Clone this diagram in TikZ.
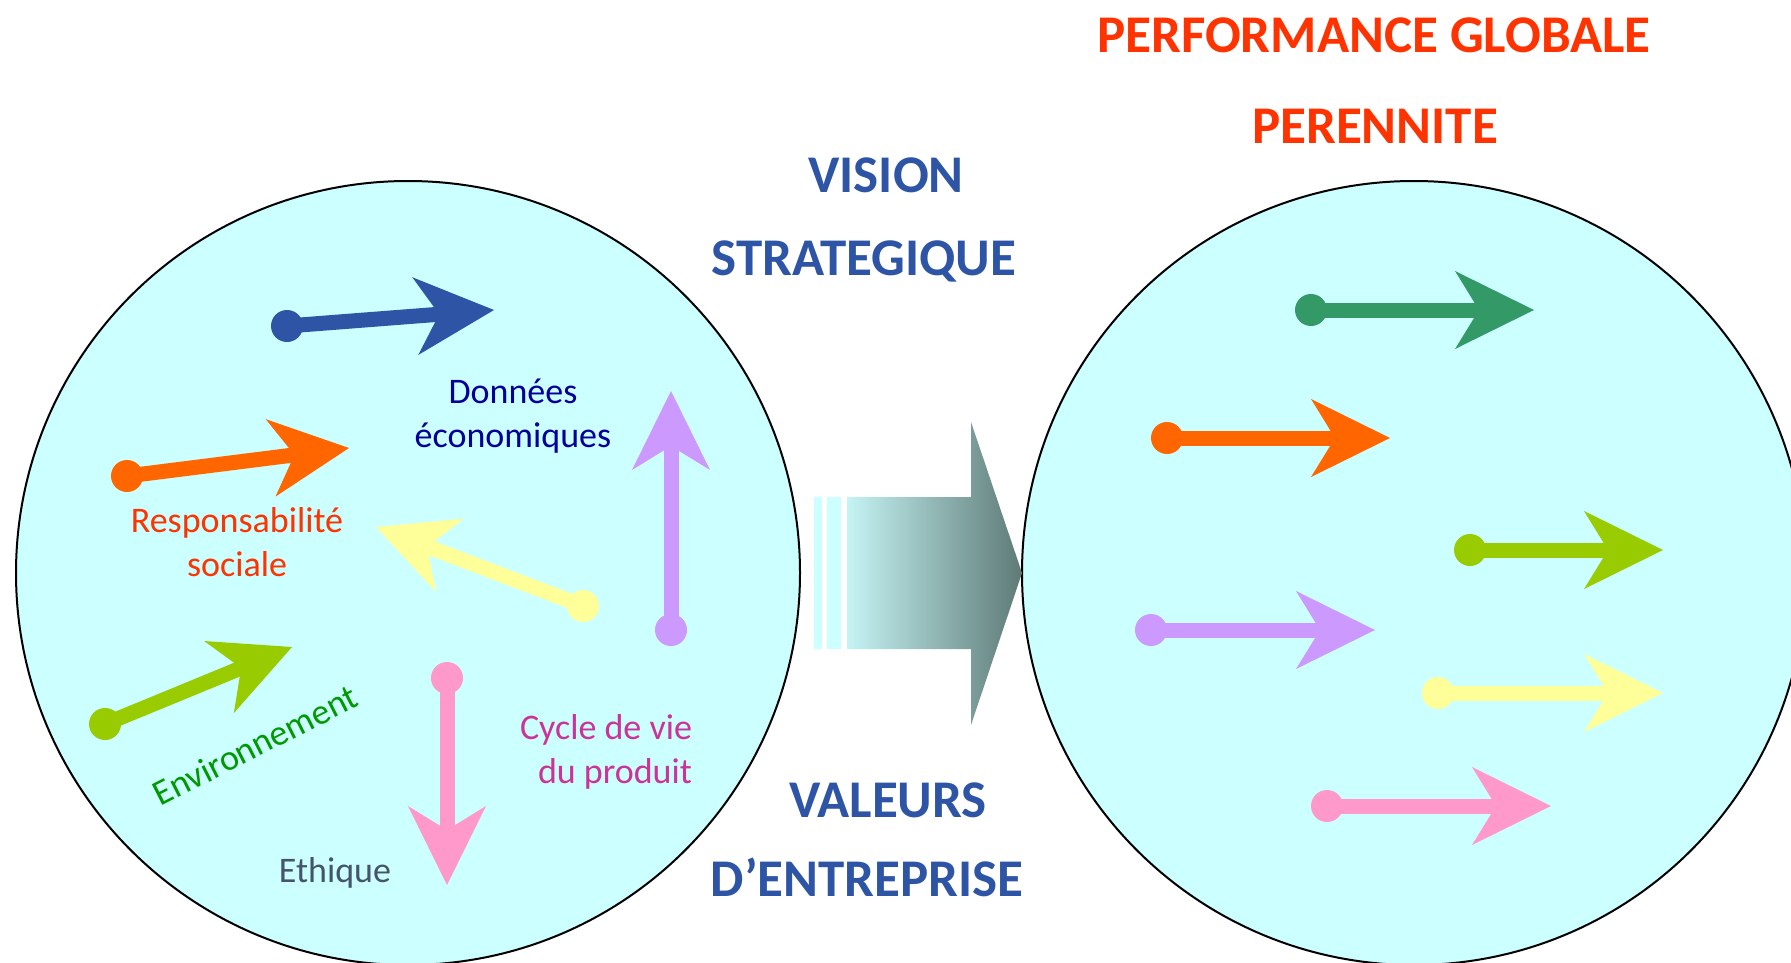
\documentclass[tikz,border=0pt]{standalone}
\usepackage{fontspec}
\setmainfont{Carlito}
\definecolor{bubblecyan}{RGB}{204, 255, 255}
\definecolor{headblue}{RGB}{46, 85, 165}
\definecolor{headred}{RGB}{255, 51, 0}
\definecolor{navytext}{RGB}{0, 0, 153}
\definecolor{envgreen}{RGB}{0, 153, 0}
\definecolor{slatetext}{RGB}{68, 84, 106}
\definecolor{cyclepink}{RGB}{204, 51, 153}
\definecolor{arrorange}{RGB}{255, 102, 0}
\definecolor{arryellow}{RGB}{255, 255, 153}
\definecolor{arrlilac}{RGB}{204, 153, 255}
\definecolor{arrlime}{RGB}{153, 204, 0}
\definecolor{arrpink}{RGB}{255, 153, 204}
\definecolor{arrteal}{RGB}{51, 153, 102}
\definecolor{gradlight}{RGB}{197, 244, 244}
\definecolor{graddark}{RGB}{94, 122, 118}
\usetikzlibrary{arrows.meta, shapes, positioning}

\begin{document}
\begin{tikzpicture}[x=1pt, y=-1pt,
    bubble/.style={draw=black, line width=2pt, fill=bubblecyan},
    dotend/.style={circle, fill=#1, minimum size=32pt, inner sep=0pt},
    shaft/.style={draw=#1, line width=15pt,
      -{Stealth[length=79pt, width=78pt, inset=24pt, line width=0pt]}},
    heading/.style={font=\bfseries\fontsize{53}{63}\selectfont, headblue, anchor=base},
    topline/.style={font=\bfseries\fontsize{53}{63}\selectfont, headred, anchor=base},
    label/.style={font=\fontsize{36}{44}\selectfont, align=center}]
  \useasboundingbox (0,0) rectangle (1791,963);

  % Circles
  \draw[bubble] (408,573) circle (392);
  \draw[bubble] (1414,573) circle (392);

  % Big arrow
  \fill[bubblecyan] (814,497) rectangle (822,649);
  \fill[bubblecyan] (827,497) rectangle (841,649);
  \shade[left color=gradlight, right color=graddark]
    (847,497) -- (971,497) -- (971,422) -- (1022,573) -- (971,725)
    -- (971,649) -- (847,649) -- cycle;

  % Left circle arrows
  \foreach \nm/\col/\xa/\ya/\xb/\yb in {eco/headblue/287/326/494/310,
      soc/arrorange/127/476/349/448, yel/arryellow/583/606/376/527,
      lil/arrlilac/671/630/671/391, env/arrlime/105/724/292/647,
      eth/arrpink/447/678/447/885} {
    \node[dotend=\col] (\nm Dot) at (\xa,\ya) {};
    \coordinate (\nm Tip) at (\xb,\yb);
    \draw[shaft=\col] (\nm Dot.center) -- (\nm Tip);
  }

  % Right circle arrows
  \foreach \nm/\col/\xa/\xb/\yy in {rTeal/arrteal/1311/1534/310,
      rOrange/arrorange/1167/1390/438, rLime/arrlime/1470/1663/550,
      rLilac/arrlilac/1151/1375/630, rYellow/arryellow/1438/1663/693,
      rPink/arrpink/1327/1551/806} {
    \node[dotend=\col] (\nm Dot) at (\xa,\yy) {};
    \coordinate (\nm Tip) at (\xb,\yy);
    \draw[shaft=\col] (\nm Dot.center) -- (\nm Tip);
  }

  % Labels
  \node[label, navytext] (donnees) at (513,416) {Données\\économiques};
  \node[label, headred] (respons) at (237,542) {Responsabilité\\sociale};
  \node[label, envgreen, rotate=27] (environ) at (255,745) {Environnement};
  \node[label, slatetext, anchor=base] (ethique) at (335,882) {Ethique};
  \node[label, cyclepink, align=right] (cycle) at (606,752) {Cycle de vie\\du produit};

  % Headings
  \node[heading] (vision) at (886,192) {VISION};
  \node[heading] (strat) at (864,275) {STRATEGIQUE};
  \node[heading] (valeurs) at (888,817) {VALEURS};
  \node[heading] (dentre) at (867,896) {D’ENTREPRISE};
  \node[topline] (perf) at (1374,53) {PERFORMANCE GLOBALE};
  \node[topline] (peren) at (1375,144) {PERENNITE};
\end{tikzpicture}
\end{document}
